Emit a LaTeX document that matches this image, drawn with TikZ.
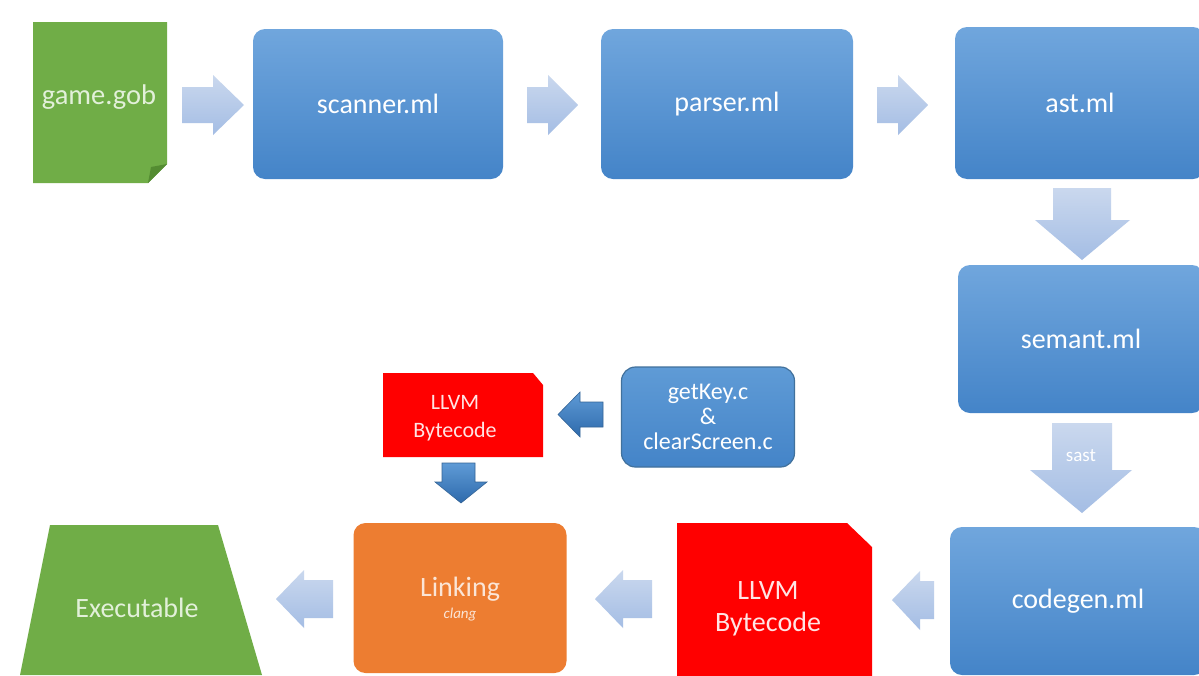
\documentclass[tikz,border=0pt]{standalone}
\usepackage{fontspec}
\setmainfont{Carlito}
\definecolor{boxtop}{RGB}{112,166,221}
\definecolor{boxbot}{RGB}{68,132,200}
\definecolor{gobgreen}{RGB}{112,173,71}
\definecolor{gobfold}{RGB}{84,140,50}
\definecolor{paleg}{RGB}{226,240,217}
\definecolor{llvmred}{RGB}{255,0,0}
\definecolor{palered}{RGB}{255,228,228}
\definecolor{linkor}{RGB}{237,125,49}
\definecolor{paleor}{RGB}{251,229,214}
\definecolor{arrlight}{RGB}{202,216,238}
\definecolor{arrdark}{RGB}{164,189,228}
\definecolor{darktop}{RGB}{95,155,214}
\definecolor{darkbot}{RGB}{46,106,172}
\definecolor{darkedge}{RGB}{52,100,150}
\definecolor{keyedge}{RGB}{65,113,156}
\tikzset{
  bluebox/.style={rectangle, rounded corners=12pt, top color=boxtop, bottom color=boxbot,
    draw=none, text=white, inner sep=0pt, font=\fontsize{28}{32}\selectfont},
  harrow/.style={top color=arrlight, bottom color=arrdark, draw=none},
  varrow/.style={top color=arrlight, bottom color=arrdark, draw=none},
  darkarrow/.style={top color=darktop, bottom color=darkbot, draw=darkedge, line width=0.6pt},
  bigtext/.style={font=\fontsize{28}{32}\selectfont},
}
\begin{document}
\begin{tikzpicture}[x=1pt,y=-1pt]
\useasboundingbox (0,0) rectangle (1199,675);
\clip (0,0) rectangle (1199,675);
\fill[white] (0,0) rectangle (1199,675);

% game.gob document
\fill[gobgreen] (33,22) -- (167,22) -- (167,164) -- (148,183) -- (33,183) -- cycle;
\fill[gobfold] (167,164) -- (148,183) -- (151,167) -- cycle;
\node[text=paleg, font=\fontsize{28.5}{32}\selectfont] (gob) at (99,97) {game.gob};

% pipeline boxes
\node[bluebox, minimum width=250, minimum height=150] (scanner) at (378,104) {scanner.ml};
\node[bluebox, minimum width=252, minimum height=150] (parser) at (727,104) {parser.ml};
\node[bluebox, minimum width=250, minimum height=152] (ast) at (1080,103) {ast.ml};
\node[bluebox, minimum width=246, minimum height=148] (semant) at (1081,339) {semant.ml};
\node[bluebox, minimum width=256, minimum height=148] (codegen) at (1078,601) {codegen.ml};

% light block arrows
\shade[harrow] (182,87) -- (213,87) -- (213,75) -- (244,105) -- (213,135) -- (213,123) -- (182,123) -- cycle;
\shade[harrow] (527,87) -- (548,87) -- (548,75) -- (578,105) -- (548,135) -- (548,123) -- (527,123) -- cycle;
\shade[harrow] (877,87) -- (898,87) -- (898,75) -- (928,105) -- (898,135) -- (898,123) -- (877,123) -- cycle;
\shade[varrow] (1053,188) -- (1111,188) -- (1111,220) -- (1130,220) -- (1082,260) -- (1035,220) -- (1053,220) -- cycle;
\shade[varrow] (1052,423) -- (1112,423) -- (1112,470) -- (1132,470) -- (1082,513) -- (1030,470) -- (1052,470) -- cycle;
\node[text=white, font=\fontsize{19}{21}\selectfont] (sast) at (1081,456) {sast};
\shade[harrow] (934,581) -- (920,581) -- (920,571) -- (892,600) -- (920,630) -- (920,619) -- (934,619) -- cycle;
\shade[harrow] (652,580) -- (623,580) -- (623,570) -- (595,599) -- (623,628) -- (623,618) -- (652,618) -- cycle;
\shade[harrow] (333,580) -- (304,580) -- (304,570) -- (276,599) -- (304,628) -- (304,618) -- (333,618) -- cycle;

% big LLVM bytecode
\fill[llvmred] (677,523) -- (847,523) -- (872,547) -- (872,690) -- (677,690) -- cycle;
\node[text=palered, align=center, font=\fontsize{28}{32}\selectfont] (llvm) at (768,609) {LLVM\\Bytecode};

% Linking
\node[rectangle, rounded corners=12pt, fill=linkor, minimum width=213, minimum height=150] (link) at (460,598) {};
\node[text=paleor, bigtext] (linktxt) at (460,589) {Linking};
\node[text=paleor, font=\fontsize{15}{17}\itshape] (clang) at (460,615) {clang};

% Executable
\fill[gobgreen] (50,525) -- (218,525) -- (262,675) -- (20,675) -- cycle;
\node[text=paleg, bigtext] (exe) at (137,608) {Executable};

% getKey box
\node[rectangle, rounded corners=14pt, top color=darktop, bottom color=boxbot, draw=keyedge, line width=1.2pt,
  minimum width=173, minimum height=100, text=white, align=center, inner sep=0pt,
  font=\fontsize{24}{25}\selectfont] (key) at (708,417) {getKey.c\\\&\\clearScreen.c};

% small LLVM bytecode
\fill[llvmred] (383,373) -- (533,373) -- (543,385) -- (543,457) -- (383,457) -- cycle;
\node[text=palered, align=center, font=\fontsize{22}{28}\selectfont] (sllvm) at (455,418) {LLVM\\Bytecode};

% dark block arrows
\shade[darkarrow] (603,402) -- (580,402) -- (580,392) -- (558,414.5) -- (580,437) -- (580,427) -- (603,427) -- cycle;
\shade[darkarrow] (442,463) -- (475,463) -- (475,482) -- (487,482) -- (461,503) -- (435,482) -- (442,482) -- cycle;
\end{tikzpicture}
\end{document}
